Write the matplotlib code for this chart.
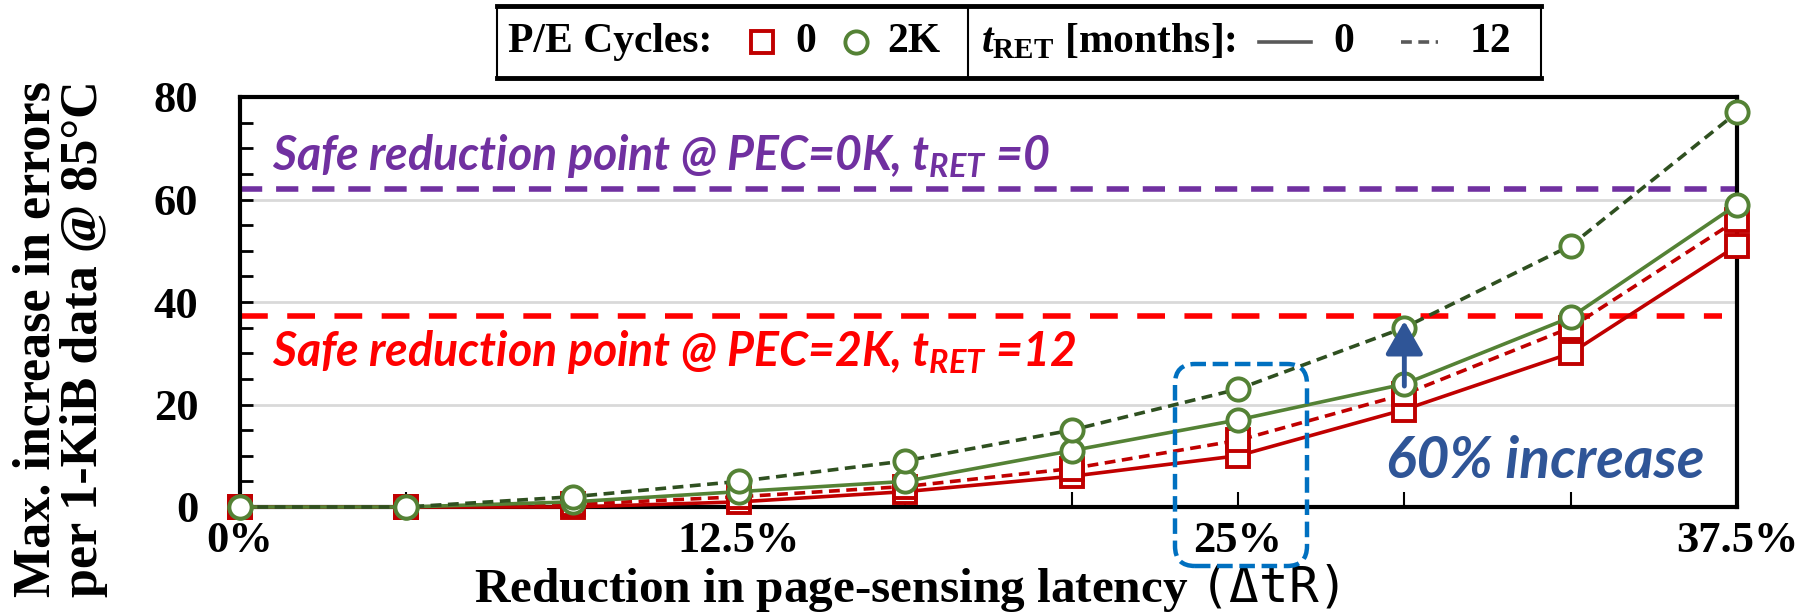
import matplotlib.pyplot as plt
from matplotlib.lines import Line2D
from matplotlib.patches import FancyBboxPatch, Rectangle
from matplotlib.ticker import MultipleLocator

plt.rcParams["font.family"] = "Liberation Serif"
plt.rcParams["font.weight"] = "bold"
plt.rcParams["axes.labelweight"] = "bold"
plt.rcParams["mathtext.fontset"] = "custom"
plt.rcParams["mathtext.rm"] = "Liberation Serif:bold"
plt.rcParams["mathtext.bf"] = "Liberation Serif:bold"
plt.rcParams["mathtext.it"] = "Lato:italic:bold"
plt.rcParams["mathtext.bfit"] = "Liberation Serif:italic:bold"
plt.rcParams["mathtext.tt"] = "DejaVu Sans Mono:weight=normal"

# data
reduction = [0, 4.1667, 8.3333, 12.5, 16.6667, 20.8333, 25, 29.1667, 33.3333, 37.5]
xtick_labels = ["0%", "", "", "12.5%", "", "", "25%", "", "", "37.5%"]
pec0_ret0 = [0, 0, 0, 1, 3, 6, 10, 19, 30, 51]
pec0_ret12 = [0, 0, 0.5, 2, 4, 7.5, 13, 22, 35, 56]
pec2k_ret0 = [0, 0, 1, 3, 5, 11, 17, 24, 37, 59]
pec2k_ret12 = [0, 0, 2, 5, 9, 15, 23, 35, 51, 77]
safe_pec0_ret0 = 62
safe_pec2k_ret12 = 37.2
arrow_from, arrow_to = 23.6, 36.3

RED = "#C00000"
GREEN = "#548235"
DKGREEN = "#2F5020"
PURPLE = "#7030A0"
BRIGHT_RED = "#FF0000"
BLUE = "#2F5597"
BOX_BLUE = "#0070C0"
GRAY = "#595959"

W, H = 1810, 616
fig = plt.figure(figsize=(W / 100, H / 100), dpi=100)
ax = fig.add_axes([240 / W, 1 - 507 / H, (1737 - 240) / W, (507 - 97) / H])


def fx(px):
    return px / W


def fy(py):
    return 1 - py / H


mk = dict(ms=16, mew=2.8, mfc="white", clip_on=False)
ax.plot(reduction, pec0_ret0, color=RED, lw=2.6, marker="s", mec=RED, zorder=3, **mk)
ax.plot(reduction, pec0_ret12, color=RED, lw=2.6, ls=(0, (3, 1.8)), marker="s", mec=RED, zorder=3, **mk)
ax.plot(reduction, pec2k_ret0, color=GREEN, lw=2.6, marker="o", mec=GREEN, zorder=4, **mk)
ax.plot(reduction, pec2k_ret12, color=DKGREEN, lw=2.6, ls=(0, (3, 1.8)), marker="o", mec=GREEN, zorder=4, **mk)

ax.axhline(safe_pec0_ret0, color=PURPLE, lw=4, ls=(0, (4, 2.5)), zorder=2)
ax.axhline(safe_pec2k_ret12, xmax=0.99, color=BRIGHT_RED, lw=4, ls=(0, (5, 3.5)), zorder=2)

ax.text(0.8, 68.5, "Safe reduction point @ PEC=0K, $t_{RET}$ =0", color=PURPLE,
        family="Lato", style="italic", weight="bold", fontsize=33.5, va="center")
ax.text(0.8, 30.2, "Safe reduction point @ PEC=2K, $t_{RET}$ =12", color=BRIGHT_RED,
        family="Lato", style="italic", weight="bold", fontsize=33.5, va="center")
ax.text(28.7, 8.8, "60% increase", color=BLUE, family="Lato", style="italic",
        weight="bold", fontsize=41, va="center")

ax.annotate("", xy=(reduction[7], arrow_to), xytext=(reduction[7], arrow_from),
            arrowprops=dict(arrowstyle="-|>,head_length=0.35,head_width=0.2",
                            color=BLUE, lw=3.5, mutation_scale=58,
                            shrinkA=0, shrinkB=0), zorder=6)

# dashed rounded box around the 25% point
box = FancyBboxPatch((fx(1175), fy(566)), fx(1307) - fx(1175), fy(364) - fy(566),
                     boxstyle="round,pad=0,rounding_size=0.011", mutation_aspect=W / H,
                     transform=fig.transFigure, fill=False, ec=BOX_BLUE, lw=3.2,
                     ls=(0, (3.5, 1.5)), zorder=7)
fig.add_artist(box)

ax.set_xlim(0, 37.5)
ax.set_ylim(0, 80)
ax.set_xticks(reduction)
ax.set_xticklabels(xtick_labels, fontsize=32)
ax.set_yticks(range(0, 81, 20))
ax.yaxis.set_minor_locator(MultipleLocator(5))
ax.tick_params(axis="y", which="both", direction="in", length=9, width=2, labelsize=32, pad=30)
ax.tick_params(axis="x", direction="in", length=11, width=1.5, pad=10)
ax.yaxis.grid(True, color="#D9D9D9", lw=2)
ax.set_axisbelow(True)
for s in ax.spines.values():
    s.set_linewidth(3)

ax.set_xlabel("Reduction in page-sensing latency $\\mathtt{(\\Delta tR)}$", fontsize=35.5, labelpad=1)
ax.xaxis.label.set_x(0.445)
fig.text(0.0334, 0.451, "Max. increase in errors\nper 1-KiB data @ 85°C", rotation=90,
         ha="center", va="center", multialignment="left", fontsize=37.5, linespacing=1.0)

# legend drawn as a two-part box at the top
ly = fy(42)
fig.add_artist(Rectangle((fx(497), fy(78)), fx(1541) - fx(497), fy(6) - fy(78),
                         transform=fig.transFigure, fill=False, ec="black", lw=1.5))
for yy in (6, 78):
    fig.add_artist(Line2D([fx(497), fx(1541)], [fy(yy), fy(yy)], transform=fig.transFigure,
                          color="black", lw=3.5))
fig.add_artist(Line2D([fx(968), fx(968)], [fy(6), fy(78)], transform=fig.transFigure,
                      color="black", lw=1.5))
fig.text(fx(508), ly, "P/E Cycles:", fontsize=30, va="center")
fig.add_artist(Line2D([fx(762)], [ly], transform=fig.transFigure, marker="s", ms=16,
                      mew=2.8, mfc="white", mec=RED))
fig.text(fx(795), ly, "0", fontsize=30, va="center")
fig.add_artist(Line2D([fx(856)], [ly], transform=fig.transFigure, marker="o", ms=16,
                      mew=2.8, mfc="white", mec=GREEN))
fig.text(fx(887), ly, "2K", fontsize=30, va="center")
fig.text(fx(981), ly, "$\\mathbfit{t}_{\\mathbf{RET}}$ [months]:", fontsize=30, va="center")
fig.add_artist(Line2D([fx(1259), fx(1311)], [ly, ly], transform=fig.transFigure,
                      color=GRAY, lw=2.6))
fig.text(fx(1333), ly, "0", fontsize=30, va="center")
fig.add_artist(Line2D([fx(1401), fx(1438)], [ly, ly], transform=fig.transFigure,
                      color=GRAY, lw=2.6, ls=(0, (3, 1.8))))
fig.text(fx(1470), ly, "12", fontsize=30, va="center")

fig.savefig("out.png", dpi=100)
